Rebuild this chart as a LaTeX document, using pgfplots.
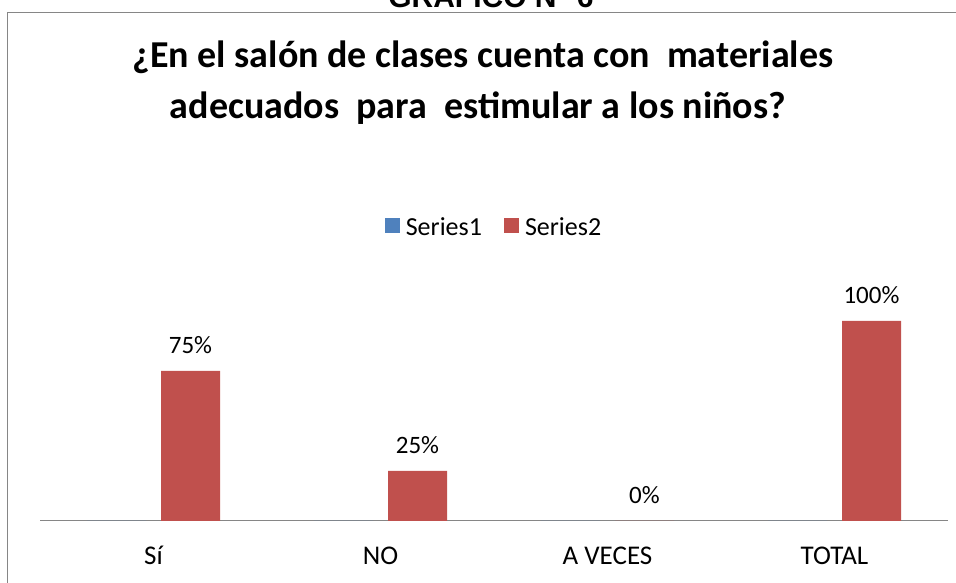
\documentclass[border=0pt]{standalone}
\usepackage{pgfplots}
\pgfplotsset{compat=1.18}
\usepackage{fontspec}
\setmainfont{Carlito}
\newfontfamily\arialfont{Liberation Sans}
\definecolor{s1}{HTML}{4F81BD}
\definecolor{s2}{HTML}{C0504D}
\definecolor{axgray}{HTML}{868686}
\begin{document}
\begin{tikzpicture}[x=1pt,y=1pt]
\useasboundingbox (0,0) rectangle (956,583);
\clip (0,0) rectangle (956,583);
\fill[white] (0,0) rectangle (956,583);
% chart frame
\draw[axgray,line width=1pt] (7,-5) -- (7,570) -- (965,570);
% cut-off heading
\node[anchor=base,font=\arialfont\bfseries\fontsize{30}{34}\selectfont,inner sep=0] at (491,575) {GRÁFICO N° 6};
% title
\node[anchor=base,font=\bfseries\fontsize{38}{45}\selectfont,inner sep=0] at (483,515) {¿En el salón de clases cuenta con\ \ materiales};
\node[anchor=base,font=\bfseries\fontsize{38}{45}\selectfont,inner sep=0] at (478,464) {adecuados\ \ para\ \ estimular a los niños?};
\begin{axis}[
  at={(40pt,62pt)}, anchor=south west,
  scale only axis, width=908pt, height=240pt,
  xmin=-0.5, xmax=3.5, ymin=0, ymax=1.2,
  axis x line*=bottom, axis y line=none,
  x axis line style={axgray,line width=1pt,-},
  xtick={0,1,2,3}, xticklabels={Sí,NO,A VECES,TOTAL},
  major tick length=0pt,
  xticklabel style={font=\fontsize{27}{32}\selectfont,anchor=base,yshift=-44pt},
  ybar, bar width=59pt,
  legend columns=2,
  legend style={at={(0.5,1.225)},anchor=center,draw=none,fill=none,
    font=\fontsize{26}{31}\selectfont,
    /tikz/every odd column/.append style={column sep=4pt},
    /tikz/every even column/.append style={column sep=20pt}},
  legend image code/.code={\draw[#1,draw=none] (0pt,-6pt) rectangle (15pt,9pt);},
  clip=false,
]
\addplot[fill=s1,draw=none,bar shift=-37pt] coordinates {(0,0) (1,0) (2,0) (3,0)};
\addlegendentry{Series1}
\addplot[fill=s2,draw=none,bar shift=37pt,
  point meta=explicit symbolic,
  nodes near coords,
  every node near coord/.append style={anchor=base,yshift=17pt,font=\fontsize{25}{30}\selectfont,text=black}]
  coordinates {(0,0.75)[75\%] (1,0.25)[25\%] (2,0)[0\%] (3,1.00)[100\%]};
\addlegendentry{Series2}
\end{axis}
\end{tikzpicture}
\end{document}
